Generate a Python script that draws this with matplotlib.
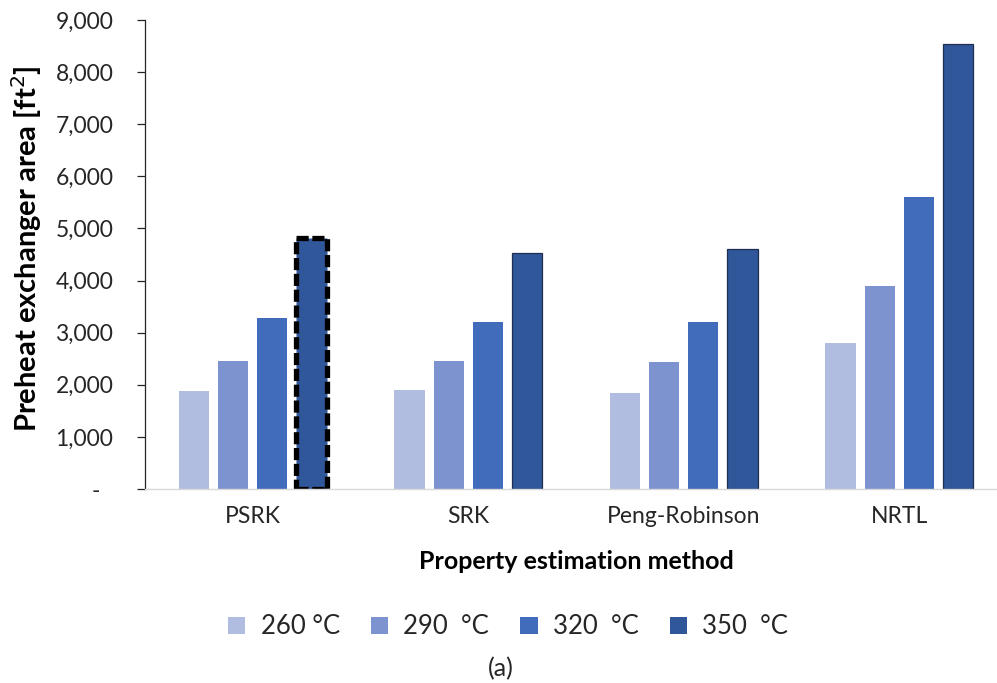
import numpy as np
import matplotlib
matplotlib.use("Agg")
import matplotlib.pyplot as plt
import matplotlib.transforms as mtransforms
from matplotlib.patches import Patch

plt.rcParams['font.family'] = ['Lato', 'DejaVu Sans']

methods = ["PSRK", "SRK", "Peng-Robinson", "NRTL"]
temps = ["260 °C", "290  °C", "320  °C", "350  °C"]
area_260 = [1880, 1900, 1850, 2800]
area_290 = [2460, 2450, 2445, 3895]
area_320 = [3290, 3200, 3200, 5610]
area_350 = [4820, 4525, 4605, 8540]
yticks = [0, 1000, 2000, 3000, 4000, 5000, 6000, 7000, 8000, 9000]

colors = ["#b1bde0", "#7d93cf", "#416bbb", "#305799"]
series = [area_260, area_290, area_320, area_350]

fig = plt.figure(figsize=(9.97, 6.83), dpi=100)
ax = fig.add_axes([145 / 997, 1 - 489 / 683, 862 / 997, 469 / 683])

x = np.arange(len(methods))
pitch = 0.181
width = 0.1415
bars = []
for k, (vals, c) in enumerate(zip(series, colors)):
    off = (k - 1.5) * pitch
    if k == 3:
        b = ax.bar(x + off, vals, width, color=c, edgecolor="#1e2f52", linewidth=0.9)
    else:
        b = ax.bar(x + off, vals, width, color=c, linewidth=0)
    bars.append(b)

# highlight the selected PSRK case
hl = bars[3][0]
hl.set_edgecolor("black")
hl.set_linewidth(3.8)
hl.set_linestyle((0, (2.3, 0.7)))

ax.set_xlim(-0.5, 3.5)
ax.set_ylim(0, 9000)
ax.set_yticks(yticks)
ax.set_yticklabels(["-" if v == 0 else "{:,}".format(v) for v in yticks], fontsize=16.5, color="#262626")
ax.tick_params(axis="y", length=5.8, width=0.9, pad=17, color="#262626")
ax.set_xticks(x)
ax.set_xticklabels(methods, fontsize=16.5, color="#262626")
ax.tick_params(axis="x", length=0, pad=12)

# push the zero dash left like an accounting format
zero_lbl = ax.get_yticklabels()[0]
zero_lbl.set_transform(zero_lbl.get_transform() + mtransforms.ScaledTranslation(-0.13, 0, fig.dpi_scale_trans))

for s in ["top", "right"]:
    ax.spines[s].set_visible(False)
ax.spines["left"].set_color("#262626")
ax.spines["left"].set_linewidth(0.9)
ax.spines["bottom"].set_color("#d9d9d9")
ax.spines["bottom"].set_linewidth(1.0)

ax.set_ylabel("Preheat exchanger area [ft$^2$]", fontsize=21, fontweight="bold", color="black")
ax.yaxis.set_label_coords(-0.117, 0.513)
ax.set_xlabel("Property estimation method", fontsize=18, fontweight="bold", color="black")
ax.xaxis.set_label_coords(0.5, -0.13)

handles = [Patch(facecolor=c, edgecolor="none") for c in colors]
fig.legend(handles, temps, loc="center", bbox_to_anchor=(508 / 997, 1 - 627 / 683), ncol=4,
           frameon=False, fontsize=18.5, handlelength=0.68, handleheight=0.68,
           handletextpad=0.6, columnspacing=1.2, labelcolor="#262626",
           borderpad=0, borderaxespad=0)

fig.text(501 / 997, 1 - 669 / 683, "(a)", ha="center", va="center", fontsize=18, color="#262626")

fig.savefig("out.png", dpi=100)
